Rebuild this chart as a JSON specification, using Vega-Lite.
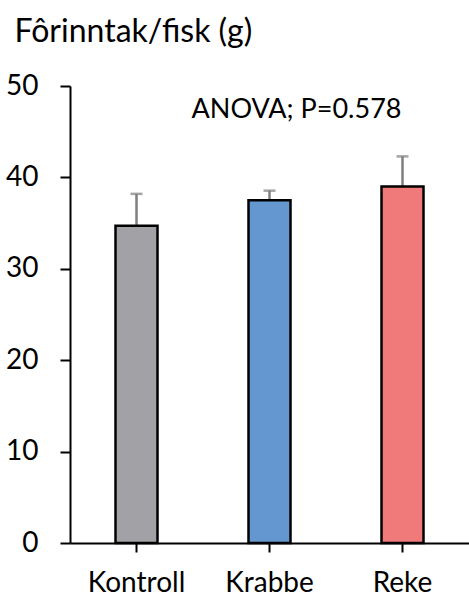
{
  "$schema": "https://vega.github.io/schema/vega-lite/v6.json",
  "width": 399,
  "height": 457,
  "autosize": "none",
  "padding": {"left": 70, "top": 86, "right": 0, "bottom": 54},
  "background": "white",
  "config": {"view": {"stroke": null}, "font": "Lato"},
  "data": {"values": [
    {"gruppe": "Kontroll", "verdi": 34.7, "feil": 38.2},
    {"gruppe": "Krabbe", "verdi": 37.5, "feil": 38.55},
    {"gruppe": "Reke", "verdi": 39.0, "feil": 42.3}
  ]},
  "encoding": {
    "x": {
      "field": "gruppe", "type": "nominal", "sort": null,
      "scale": {"paddingInner": 0, "paddingOuter": 0},
      "axis": {
        "title": null, "labelAngle": 0, "labelFontSize": 28, "labelColor": "black",
        "labelBaseline": "alphabetic", "labelPadding": 39,
        "domainColor": "black", "domainWidth": 2,
        "tickColor": "black", "tickWidth": 2, "tickSize": 9
      }
    }
  },
  "layer": [
    {
      "mark": {"type": "rule", "color": "#7F7F7F", "strokeWidth": 2.5},
      "encoding": {
        "y": {"field": "verdi", "type": "quantitative"},
        "y2": {"field": "feil"}
      }
    },
    {
      "mark": {"type": "bar", "size": 42, "stroke": "black", "strokeWidth": 2.5},
      "encoding": {
        "y": {
          "field": "verdi", "type": "quantitative",
          "scale": {"domain": [0, 50], "nice": false},
          "axis": {
            "values": [0, 10, 20, 30, 40, 50], "grid": false,
            "labelFontSize": 28, "labelColor": "black", "labelPadding": 22,
            "domainColor": "black", "domainWidth": 2,
            "tickColor": "black", "tickWidth": 2, "tickSize": 10,
            "title": "Fôrinntak/fisk (g)", "titleAngle": 0, "titleX": -56, "titleY": -45,
            "titleAlign": "left", "titleBaseline": "alphabetic",
            "titleFontSize": 32, "titleFontWeight": "normal", "titleColor": "black"
          }
        },
        "color": {
          "field": "gruppe", "type": "nominal", "legend": null,
          "scale": {"domain": ["Kontroll", "Krabbe", "Reke"], "range": ["#A2A2A6", "#6497CF", "#F07A7A"]}
        }
      }
    },
    {
      "mark": {"type": "tick", "color": "#7F7F7F", "thickness": 2.5, "size": 12},
      "encoding": {
        "y": {"field": "feil", "type": "quantitative"}
      }
    },
    {
      "data": {"values": [{"gruppe": "Krabbe", "pos": 46.5, "tekst": "ANOVA; P=0.578"}]},
      "mark": {"type": "text", "fontSize": 27, "color": "black", "align": "center", "baseline": "alphabetic", "dx": 27},
      "encoding": {
        "y": {"field": "pos", "type": "quantitative"},
        "text": {"field": "tekst"}
      }
    }
  ]
}
